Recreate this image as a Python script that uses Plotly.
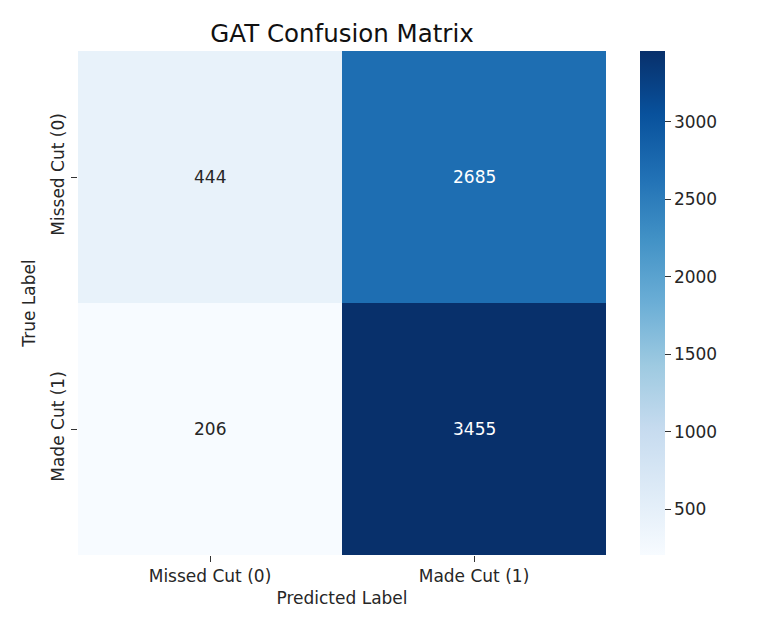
import plotly.express as px
import plotly.graph_objects as go

# Confusion matrix values (rows = true label, cols = predicted label)
pred_labels = ["Missed Cut (0)", "Made Cut (1)"]
true_labels = ["Missed Cut (0)", "Made Cut (1)"]
row_missed = [444, 2685]
row_made = [206, 3455]

z = [row_missed, row_made]
zmin = min(min(r) for r in z)
zmax = max(max(r) for r in z)

font = "DejaVu Sans"
fs = 17

# page body has an 8px margin, so the figure is a bit smaller than the window
W, H = 761, 618
L, T, PW, PH = 70, 43, 528, 504

fig = go.Figure(
    go.Heatmap(
        z=z,
        x=pred_labels,
        y=true_labels,
        zmin=zmin,
        zmax=zmax,
        colorscale=px.colors.sequential.Blues,
        hoverongaps=False,
        colorbar=dict(
            x=1 + 34 / PW,
            xanchor="left",
            xpad=0,
            y=0.5,
            yanchor="middle",
            ypad=0,
            len=1,
            lenmode="fraction",
            thickness=25,
            thicknessmode="pixels",
            outlinewidth=0,
            ticks="outside",
            ticklen=6,
            tickwidth=1,
            tickcolor="#333",
            tick0=500,
            dtick=500,
            tickfont=dict(family=font, size=fs, color="#262626"),
        ),
    )
)

# cell annotations, white text on dark cells like seaborn
annotations = []
for i, lab in enumerate(true_labels):
    for j, pl in enumerate(pred_labels):
        v = z[i][j]
        frac = (v - zmin) / (zmax - zmin)
        annotations.append(dict(
            x=pl, y=lab, text=str(v), showarrow=False,
            font=dict(family=font, size=fs,
                      color="white" if frac > 0.5 else "#262626"),
        ))

fig.update_layout(
    width=W,
    height=H,
    margin=dict(l=L, r=W - L - PW, t=T, b=H - T - PH),
    paper_bgcolor="white",
    plot_bgcolor="white",
    title=dict(
        text="GAT Confusion Matrix",
        x=(L + PW / 2) / W,
        xanchor="center",
        y=1 - 25 / H,
        yanchor="middle",
        font=dict(family=font, size=24.5, color="#111"),
    ),
    annotations=annotations,
)

fig.update_xaxes(
    title=dict(text="Predicted Label", standoff=6,
               font=dict(family=font, size=fs, color="#262626")),
    tickfont=dict(family=font, size=fs, color="#262626"),
    ticks="outside", ticklen=6, tickcolor="#333",
    showgrid=False, zeroline=False, showline=False,
)
fig.update_yaxes(
    title=dict(text="True Label", standoff=8,
               font=dict(family=font, size=fs, color="#262626")),
    tickfont=dict(family=font, size=fs, color="#262626"),
    tickangle=-90,
    autorange="reversed",
    ticks="outside", ticklen=6, tickcolor="#333",
    showgrid=False, zeroline=False, showline=False,
)

fig.write_html("out.html")
